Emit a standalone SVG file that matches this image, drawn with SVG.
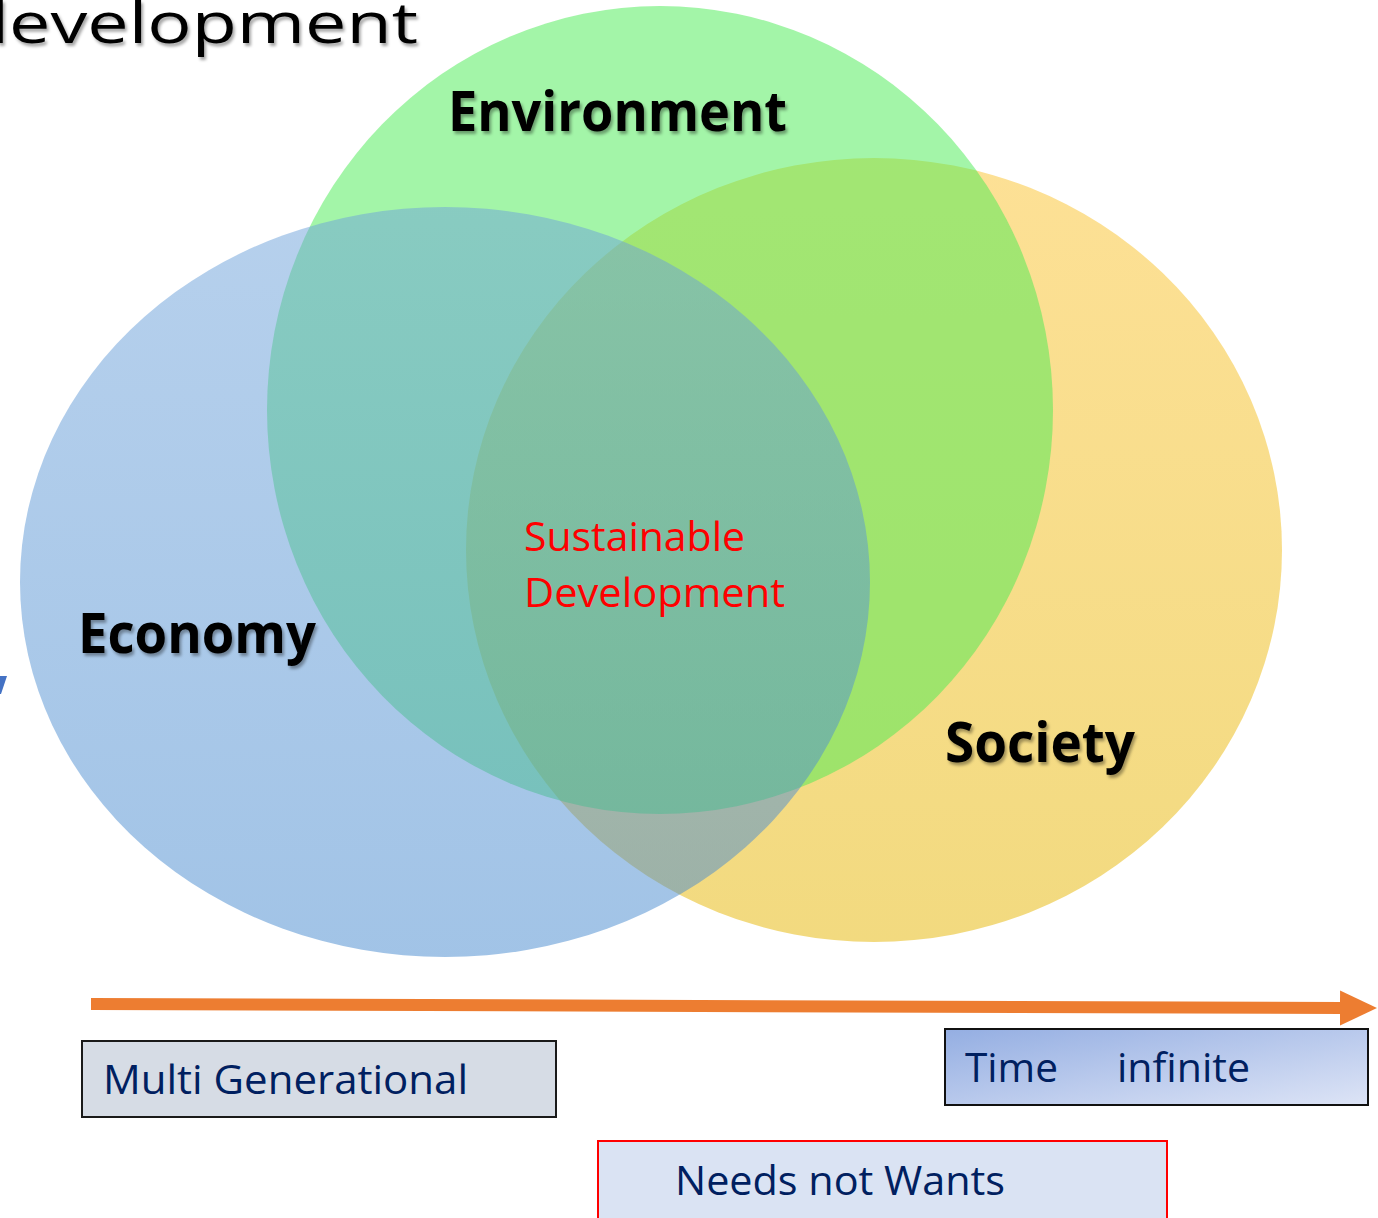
<svg xmlns="http://www.w3.org/2000/svg" width="1378" height="1218" viewBox="0 0 1378 1218">
  <defs>
    <style>
      .lbl { font-family: "Open Sans", "Noto Sans", "Liberation Sans", sans-serif; font-weight: bold; fill: #000; }
      .red { font-family: "Open Sans", "Noto Sans", "Liberation Sans", sans-serif; fill: #FF0000; font-size: 40px; }
      .box { font-family: "Open Sans", "Noto Sans", "Liberation Sans", sans-serif; fill: #002060; font-size: 40px; }
      .title { font-family: "Open Sans", "Noto Sans", "Liberation Sans", sans-serif; fill: #000; font-size: 56px; }
    </style>
    <linearGradient id="gBlue" x1="0" y1="0" x2="0" y2="1">
      <stop offset="0" stop-color="#6EA2DA"/>
      <stop offset="1" stop-color="#4488CE"/>
    </linearGradient>
    <linearGradient id="gYellow" x1="0" y1="0" x2="0" y2="1">
      <stop offset="0" stop-color="#FBC22D"/>
      <stop offset="1" stop-color="#E5B500"/>
    </linearGradient>
    <linearGradient id="gTime" x1="0" y1="0" x2="1" y2="1">
      <stop offset="0" stop-color="#94AEE2"/>
      <stop offset="1" stop-color="#DDE4F6"/>
    </linearGradient>
    <filter id="shadow" x="-10%" y="-20%" width="120%" height="150%">
      <feDropShadow dx="2" dy="3" stdDeviation="1.8" flood-color="#000" flood-opacity="0.35"/>
    </filter>
    <marker id="arrowHead" markerUnits="userSpaceOnUse" markerWidth="40" markerHeight="36" refX="2" refY="17.5" orient="auto">
      <path d="M0,0 L37,17.5 L0,35 z" fill="#ED7D31"/>
    </marker>
  </defs>

  <rect width="1378" height="1218" fill="#FFFFFF"/>

  <!-- partial title -->
  <text class="title" x="-36" y="43" textLength="454" lengthAdjust="spacingAndGlyphs" filter="url(#shadow)">development</text>
  <!-- partial blue glyph at left edge -->
  <polygon points="0,676 7,676 1,694 0,694" fill="#4472C4"/>

  <!-- circles -->
  <g id="node-society">
    <ellipse cx="874" cy="550" rx="408" ry="392" fill="url(#gYellow)" fill-opacity="0.5"/>
  </g>
  <g id="node-environment">
    <ellipse cx="660" cy="410" rx="393" ry="404" fill="#47EB51" fill-opacity="0.5"/>
  </g>
  <g id="node-economy">
    <ellipse cx="445" cy="582" rx="425" ry="375" fill="url(#gBlue)" fill-opacity="0.5"/>
  </g>

  <!-- labels -->
  <g id="label-environment">
    <text class="lbl" x="448" y="131" font-size="56" textLength="339" lengthAdjust="spacingAndGlyphs" filter="url(#shadow)">Environment</text>
  </g>
  <g id="label-economy">
    <text class="lbl" x="78" y="653" font-size="56" textLength="238" lengthAdjust="spacingAndGlyphs" filter="url(#shadow)">Economy</text>
  </g>
  <g id="label-society">
    <text class="lbl" x="945" y="762" font-size="56" textLength="190" lengthAdjust="spacingAndGlyphs" filter="url(#shadow)">Society</text>
  </g>
  <g id="node-sustainable">
    <text class="red" x="524" y="551" textLength="221" lengthAdjust="spacingAndGlyphs">Sustainable</text>
    <text class="red" x="524" y="607" textLength="261" lengthAdjust="spacingAndGlyphs">Development</text>
  </g>

  <!-- connectors -->
  <g id="connectors">
    <path d="M91,1004 L1342,1008" stroke="#ED7D31" stroke-width="12" fill="none" marker-end="url(#arrowHead)"/>
  </g>

  <!-- boxes -->
  <g id="node-multi">
    <rect x="82" y="1041" width="474" height="76" fill="#D6DCE5" stroke="#1A1A1A" stroke-width="2"/>
    <text class="box" x="103" y="1094" textLength="365" lengthAdjust="spacingAndGlyphs">Multi Generational</text>
  </g>
  <g id="node-time">
    <rect x="945" y="1029" width="423" height="76" fill="url(#gTime)" stroke="#111" stroke-width="2"/>
    <text class="box" x="965" y="1082" textLength="93" lengthAdjust="spacingAndGlyphs">Time</text>
    <text class="box" x="1117" y="1082" textLength="133" lengthAdjust="spacingAndGlyphs">infinite</text>
  </g>
  <g id="node-needs">
    <rect x="598" y="1141" width="569" height="90" fill="#DAE3F3" stroke="#FF0000" stroke-width="2"/>
    <text class="box" x="675" y="1195" textLength="330" lengthAdjust="spacingAndGlyphs">Needs not Wants</text>
  </g>
</svg>
